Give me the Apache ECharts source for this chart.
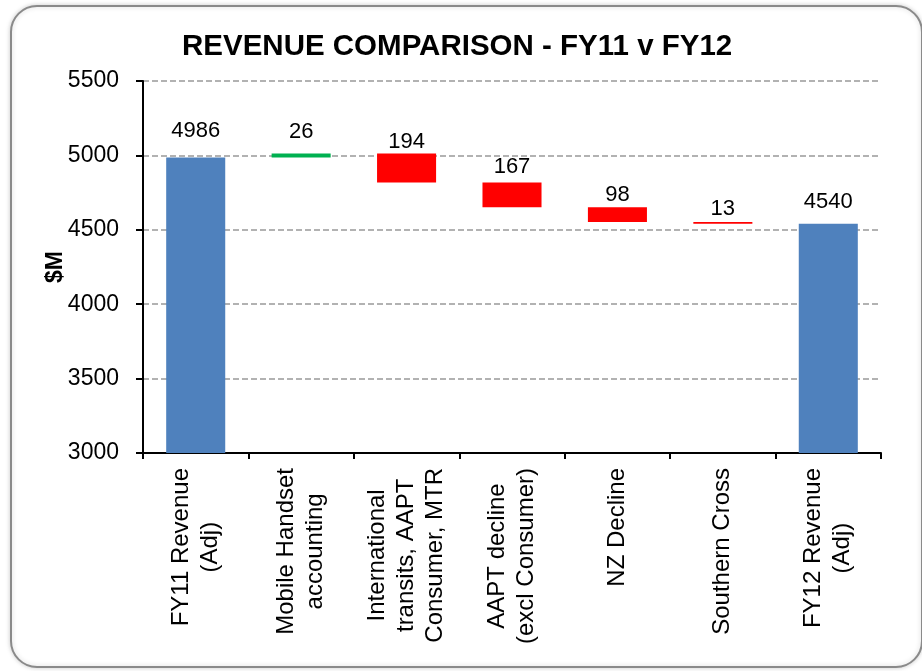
<!DOCTYPE html>
<html>
<head>
<meta charset="utf-8">
<script src="https://cdn.jsdelivr.net/npm/echarts@6/dist/echarts.min.js"></script>
<style>
  html, body { margin: 0; padding: 0; background: #fff; }
  #main { width: 922px; height: 671px; }
</style>
</head>
<body>
<div id="main"></div>
<script>
var categories = [
    'FY11 Revenue\n(Adj)',
    'Mobile Handset\naccounting',
    'International\ntransits, AAPT\nConsumer, MTR',
    'AAPT decline\n(excl Consumer)',
    'NZ Decline',
    'Southern Cross',
    'FY12 Revenue\n(Adj)'
];
var startTotal = 4986;
var deltas = [26, -194, -167, -98, -13];
var endTotal = 4540;
var yTicks = [3000, 3500, 4000, 4500, 5000, 5500];

// build waterfall: invisible base + visible step
var base = [0];
var step = [startTotal];
var kind = ['total'];
var running = startTotal;
deltas.forEach(function (d) {
    base.push(d > 0 ? running : running + d);
    step.push(Math.abs(d));
    kind.push(d > 0 ? 'up' : 'down');
    running += d;
});
base.push(0);
step.push(endTotal);
kind.push('total');

var colors = {total: '#4F81BD', up: '#00B050', down: '#FF0000'};
var labelGap = [16, 11, 1, 5, 1, 2, 11];

var myChart = echarts.init(document.getElementById('main'));

var option = {
    animation: false,
    textStyle: {fontFamily: 'Liberation Sans, Arial, sans-serif'},
    title: {
        text: 'REVENUE COMPARISON - FY11 v FY12',
        left: 177,
        top: 27,
        textStyle: {
            fontFamily: 'Liberation Sans, Arial, sans-serif',
            fontSize: 29.5,
            fontWeight: 'bold',
            color: '#000'
        }
    },
    graphic: [
        {
            type: 'rect',
            z: -10,
            shape: {x: 11, y: 6, width: 911, height: 661, r: 26},
            style: {
                fill: '#fff',
                stroke: '#8a8a8a',
                lineWidth: 2,
                shadowBlur: 5,
                shadowColor: 'rgba(0,0,0,0.18)'
            }
        }
    ],
    grid: {left: 143, right: 41, top: 81, bottom: 218},
    xAxis: {
        type: 'category',
        data: categories,
        axisLine: {lineStyle: {color: '#000', width: 2}},
        axisTick: {show: true, length: 6, lineStyle: {color: '#000', width: 2}},
        axisLabel: {
            interval: 0,
            rotate: 90,
            margin: 15,
            color: '#000',
            fontSize: 24,
            formatter: function (v) {
                return v.split('\n').map(function (s) {
                    return '{c|' + s + '}';
                }).join('\n');
            },
            rich: {
                c: {align: 'center', fontSize: 24, lineHeight: 29, color: '#000'}
            }
        }
    },
    yAxis: {
        type: 'value',
        min: yTicks[0],
        max: yTicks[yTicks.length - 1],
        interval: 500,
        name: '$M',
        nameLocation: 'middle',
        nameRotate: 90,
        nameGap: 76,
        nameMoveOverlap: false,
        nameTextStyle: {fontSize: 23, fontWeight: 'bold', color: '#000'},
        axisLine: {show: true, lineStyle: {color: '#000', width: 2}},
        axisTick: {show: true, length: 7, lineStyle: {color: '#000', width: 2}},
        axisLabel: {
            color: '#000',
            fontSize: 23,
            margin: 24,
            formatter: function (v) { return String(v); }
        },
        splitLine: {lineStyle: {color: '#999', width: 1.5, type: [6, 3]}}
    },
    series: [
        {
            name: 'base',
            type: 'bar',
            stack: 'w',
            silent: true,
            itemStyle: {color: 'transparent'},
            data: base
        },
        {
            name: 'step',
            type: 'bar',
            stack: 'w',
            barWidth: '56%',
            data: step.map(function (v, i) {
                return {
                    value: v,
                    itemStyle: {color: colors[kind[i]]},
                    label: {distance: labelGap[i]}
                };
            }),
            label: {
                show: true,
                position: 'top',
                color: '#000',
                fontSize: 22
            }
        }
    ]
};

myChart.setOption(option);
</script>
</body>
</html>
